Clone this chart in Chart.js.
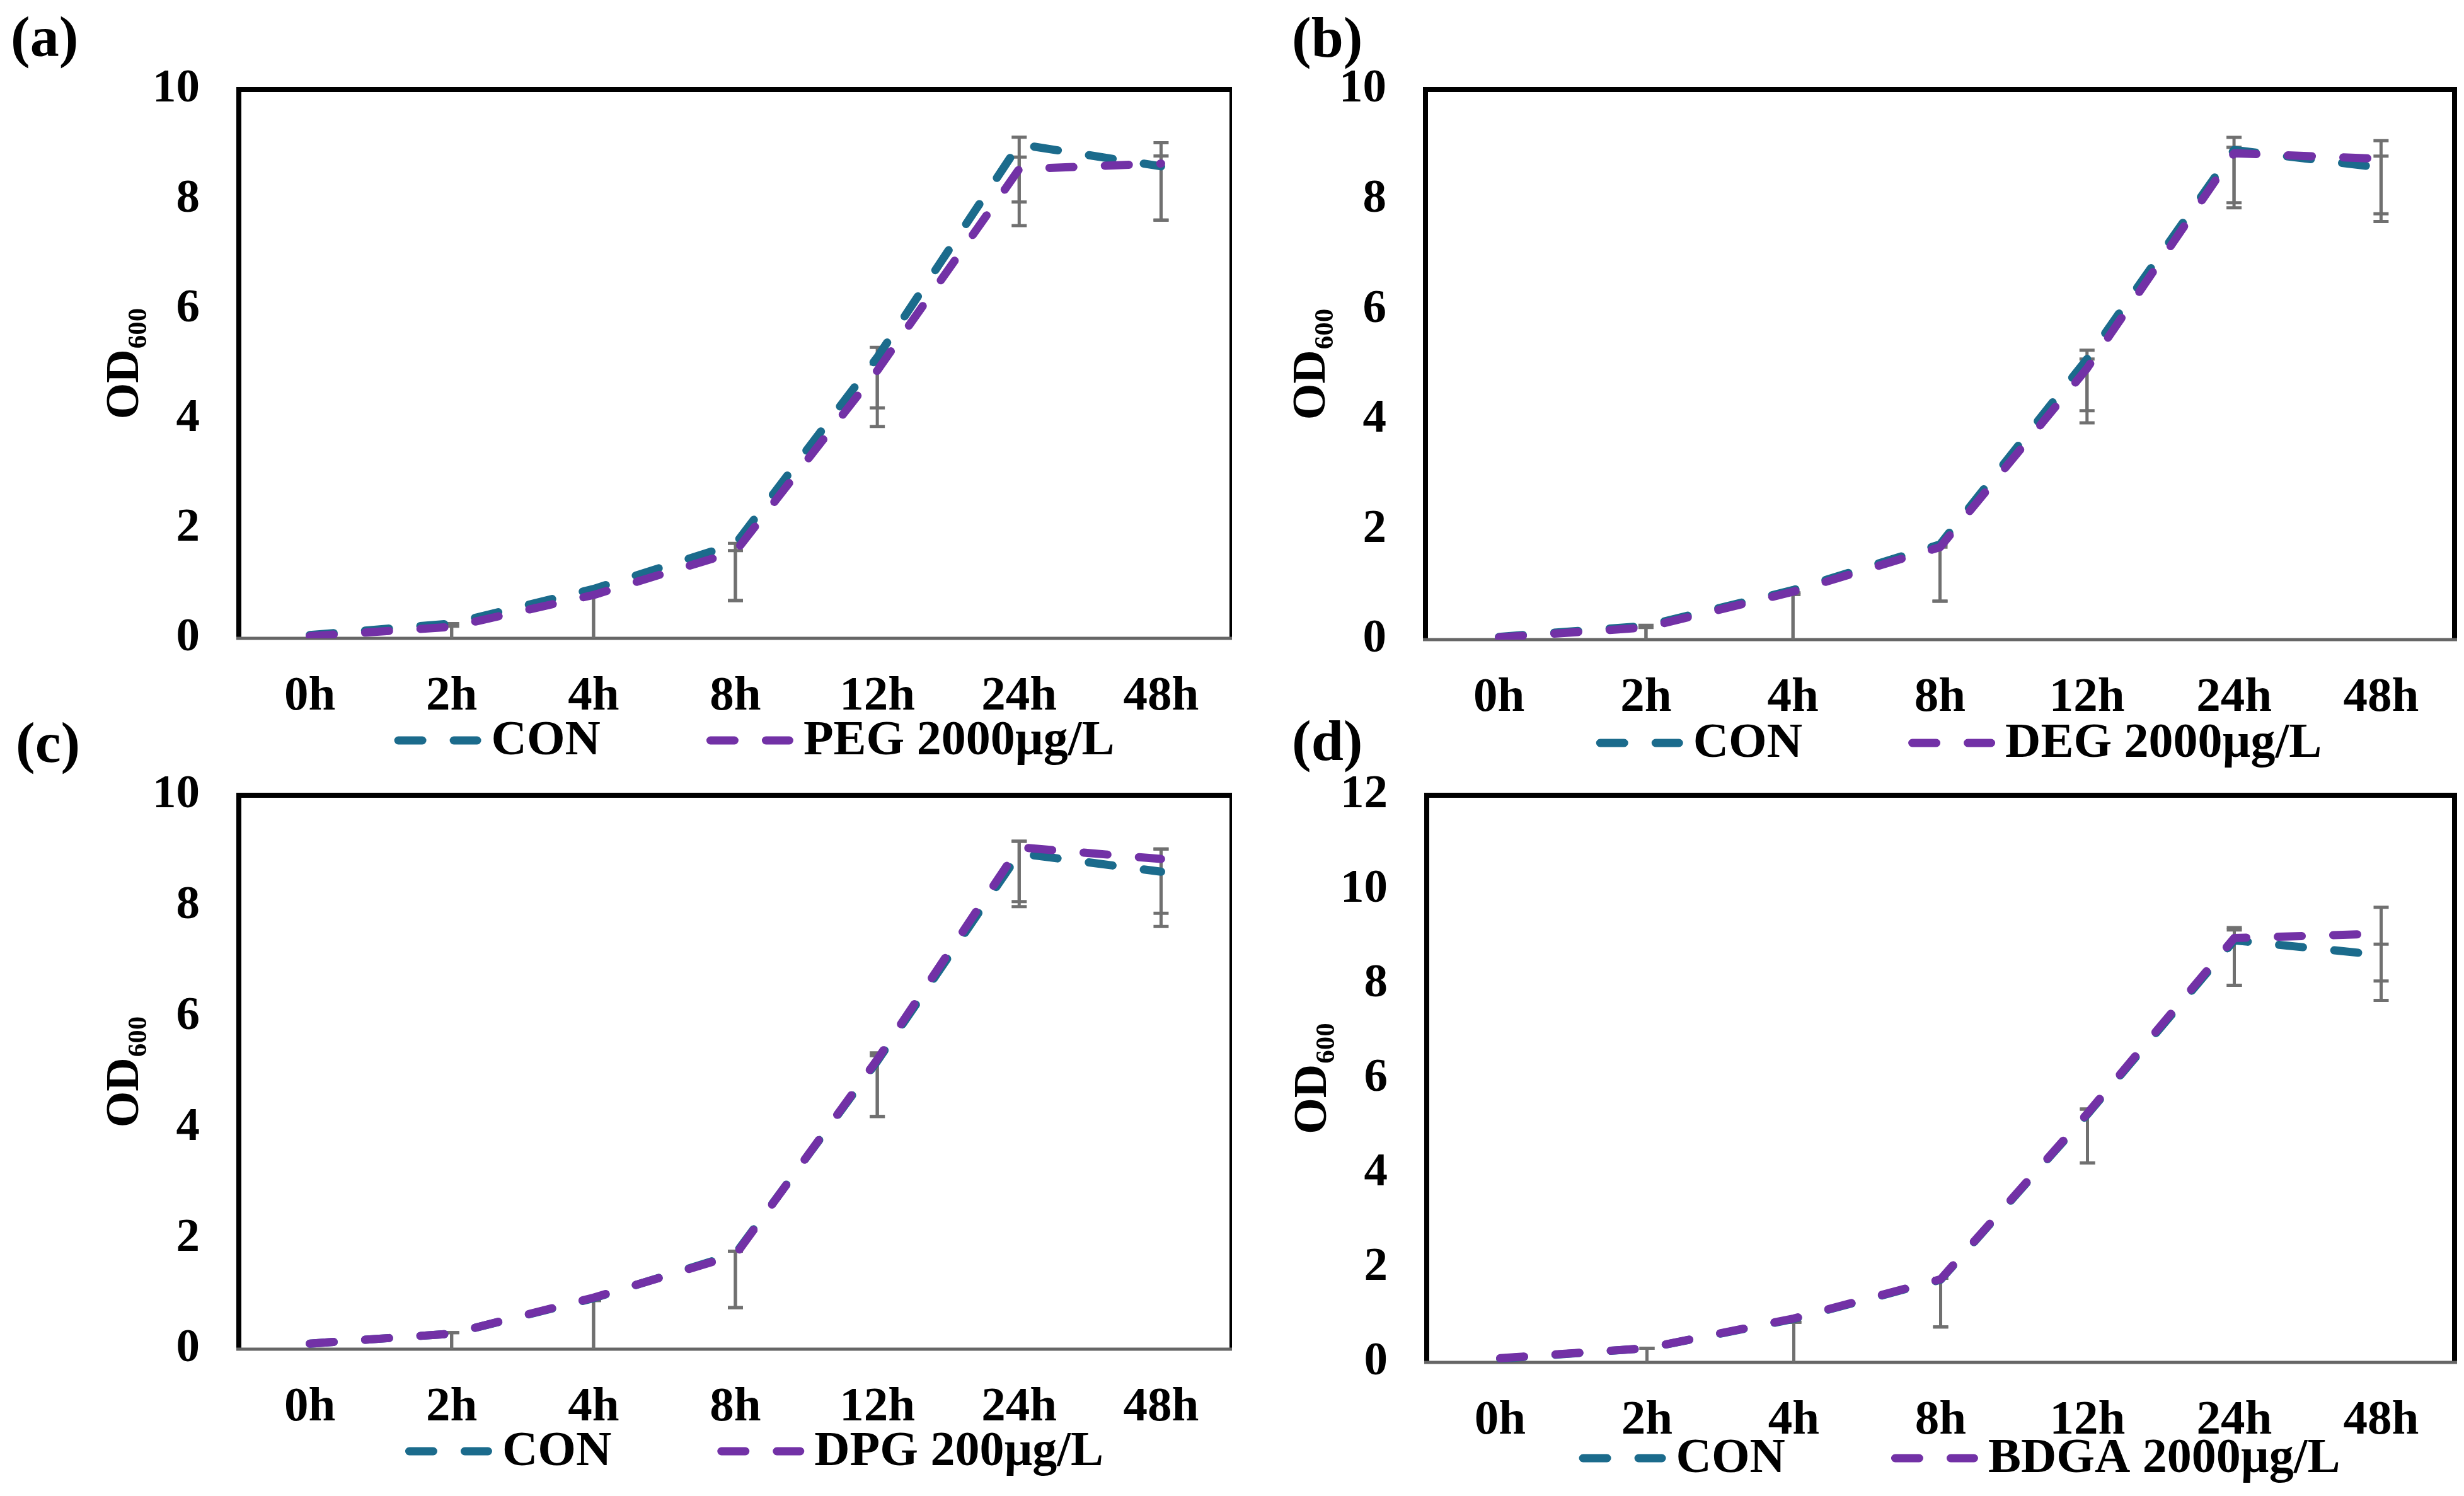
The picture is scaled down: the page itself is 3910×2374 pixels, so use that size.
<!DOCTYPE html>
<html>
<head>
<meta charset="utf-8">
<script src="https://cdn.jsdelivr.net/npm/chart.js@4.4.1/dist/chart.umd.min.js"></script>
<style>
  html, body { margin: 0; padding: 0; background: #fff; }
  body { width: 3910px; height: 2374px; position: relative; overflow: hidden; }
  canvas { position: absolute; }
</style>
</head>
<body>
<canvas id="pa"></canvas>
<canvas id="pb"></canvas>
<canvas id="pc"></canvas>
<canvas id="pd"></canvas>
<script>
const hours = ["0h", "2h", "4h", "8h", "12h", "24h", "48h"];

// (a) CON vs PEG 2000µg/L
const conA = [0.06, 0.27, 0.9, 1.72, 5.12, 9.0, 8.6];
const pegA = [0.04, 0.21, 0.79, 1.58, 4.88, 8.55, 8.65];
const conA_lo = [null, 0, 0, 0.69, 4.2, 7.95, 7.62];
const conA_hi = [null, 0.27, 0.85, 1.73, 5.3, 9.13, 9.03];
const pegA_lo = [null, 0, 0, 0.69, 3.86, 7.52, 7.62];
const pegA_hi = [null, 0.22, 0.78, 1.6, 5.0, 8.77, 8.79];

// (b) CON vs DEG 2000µg/L
const conB = [0.05, 0.25, 0.9, 1.73, 5.1, 8.9, 8.58];
const degB = [0.04, 0.22, 0.87, 1.68, 4.93, 8.84, 8.74];
const conB_lo = [null, 0, 0, 0.7, 3.94, 7.85, 7.6];
const conB_hi = [null, 0.26, 0.85, 1.73, 5.26, 9.13, 9.07];
const degB_lo = [null, 0, 0, 0.7, 4.16, 7.94, 7.74];
const degB_hi = [null, 0.22, 0.82, 1.68, 5.1, 8.95, 8.79];

// (c) CON vs DPG 200µg/L
const conC = [0.1, 0.28, 0.92, 1.72, 5.2, 8.95, 8.62];
const dpgC = [0.1, 0.28, 0.93, 1.7, 5.23, 9.06, 8.85];
const conC_lo = [null, 0, 0, 0.75, 4.2, 7.99, 7.63];
const conC_hi = [null, 0.3, 0.88, 1.77, 5.35, 9.17, 9.03];
const dpgC_lo = [null, 0, 0, 0.75, 4.2, 8.08, 7.87];
const dpgC_hi = [null, 0.3, 0.88, 1.77, 5.3, 9.17, 9.03];

// (d) CON vs BDGA 2000µg/L
const conD = [0.08, 0.3, 0.92, 1.75, 5.25, 8.93, 8.62];
const bdgaD = [0.09, 0.3, 0.93, 1.76, 5.27, 8.98, 9.07];
const conD_lo = [null, 0, 0, 0.75, 4.22, 7.98, 7.66];
const conD_hi = [null, 0.3, 0.85, 1.78, 5.36, 9.2, 8.85];
const bdgaD_lo = [null, 0, 0, 0.75, 4.22, 7.98, 8.07];
const bdgaD_hi = [null, 0.3, 0.85, 1.78, 5.36, 9.15, 9.63];

const TEAL = "#1b6b8c";
const PURPLE = "#7231a6";
const FONT = '"Liberation Serif", "Times New Roman", serif';

const panels = [
  {id: "pa", label: "(a)", lab: [17, 65], box: [0, 0, 1955, 1260], plot: [379, 142, 2012, 1013], ymax: 10, legendY: 1175,
   names: ["CON", "PEG 2000µg/L"], data: [conA, pegA], err: [[conA_lo, conA_hi], [pegA_lo, pegA_hi]]},
  {id: "pb", label: "(b)", lab: [2050, 66], box: [1955, 0, 1955, 1260], plot: [2262, 142, 3895, 1015], ymax: 10, legendY: 1179,
   names: ["CON", "DEG 2000µg/L"], data: [conB, degB], err: [[conB_lo, conB_hi], [degB_lo, degB_hi]]},
  {id: "pc", label: "(c)", lab: [25, 1185], box: [0, 1120, 1955, 1254], plot: [379, 1262, 2012, 2141], ymax: 10, legendY: 2303,
   names: ["CON", "DPG 200µg/L"], data: [conC, dpgC], err: [[conC_lo, conC_hi], [dpgC_lo, dpgC_hi]]},
  {id: "pd", label: "(d)", lab: [2050, 1182], box: [1955, 1120, 1955, 1254], plot: [2264, 1262, 3895, 2162], ymax: 12, legendY: 2314,
   names: ["CON", "BDGA 2000µg/L"], data: [conD, bdgaD], err: [[conD_lo, conD_hi], [bdgaD_lo, bdgaD_hi]]}
];

const decor = {
  id: "decor",
  beforeDatasetsDraw(chart, args, o) {
    const {ctx, chartArea: a, scales: {x, y}} = chart;
    ctx.save();
    // frame: black left/top/right, grey axis line at bottom
    ctx.strokeStyle = "#000";
    ctx.lineWidth = 8;
    ctx.lineJoin = "miter";
    ctx.beginPath();
    ctx.moveTo(a.left, a.bottom);
    ctx.lineTo(a.left, a.top);
    ctx.lineTo(a.right, a.top);
    ctx.lineTo(a.right, a.bottom);
    ctx.stroke();
    ctx.strokeStyle = "#666";
    ctx.lineWidth = 5;
    ctx.beginPath();
    ctx.moveTo(a.left - 4, a.bottom);
    ctx.lineTo(a.right + 4, a.bottom);
    ctx.stroke();

    // error bars
    ctx.strokeStyle = "#707070";
    ctx.lineWidth = 5;
    o.err.forEach(([lo, hi]) => {
      lo.forEach((v, i) => {
        if (v === null) return;
        const px = x.getPixelForValue(i);
        const y1 = y.getPixelForValue(v);
        const y2 = y.getPixelForValue(hi[i]);
        ctx.beginPath();
        ctx.moveTo(px, y1);
        ctx.lineTo(px, y2);
        if (v > 0) { ctx.moveTo(px - 12, y1); ctx.lineTo(px + 12, y1); }
        ctx.moveTo(px - 12, y2);
        ctx.lineTo(px + 12, y2);
        ctx.stroke();
      });
    });
    ctx.restore();
  },
  afterDraw(chart, args, o) {
    const {ctx, chartArea: a} = chart;
    ctx.save();

    // panel letter
    ctx.fillStyle = "#000";
    ctx.font = "700 92px " + FONT;
    ctx.textBaseline = "middle";
    ctx.textAlign = "left";
    ctx.fillText(o.label, o.lab[0] - o.ox, o.lab[1] - o.oy);

    // y title OD600 with subscript
    ctx.save();
    const big = "700 74px " + FONT, small = "700 43px " + FONT;
    ctx.font = big;
    const w1 = ctx.measureText("OD").width;
    ctx.font = small;
    const w2 = ctx.measureText("600").width;
    ctx.translate(a.left - 160, (a.top + a.bottom) / 2);
    ctx.rotate(-Math.PI / 2);
    ctx.textBaseline = "alphabetic";
    ctx.font = big;
    ctx.fillText("OD", -(w1 + w2) / 2, 0);
    ctx.font = small;
    ctx.fillText("600", -(w1 + w2) / 2 + w1 + 1, 13);
    ctx.restore();

    // legend
    ctx.font = "700 78px " + FONT;
    ctx.textBaseline = "middle";
    const L = 138, gap = 16, itemGap = 168;
    const items = chart.data.datasets.slice().sort((p, q) => p.legendIndex - q.legendIndex);
    const widths = items.map(d => ctx.measureText(d.label).width);
    let total = 0;
    widths.forEach((w, i) => { total += L + gap + w + (i ? itemGap : 0); });
    let cx = (a.left + a.right) / 2 + 30 - total / 2;
    const ly = o.legendY - o.oy;
    items.forEach((d, i) => {
      ctx.save();
      ctx.strokeStyle = d.borderColor;
      ctx.lineWidth = 13;
      ctx.lineCap = "round";
      ctx.setLineDash([38, 50]);
      ctx.beginPath();
      ctx.moveTo(cx + 6.5, ly);
      ctx.lineTo(cx + L - 6.5, ly);
      ctx.stroke();
      ctx.restore();
      ctx.fillStyle = "#000";
      ctx.fillText(d.label, cx + L + gap, ly + 2);
      cx += L + gap + widths[i] + itemGap;
    });
    ctx.restore();
  }
};

panels.forEach(p => {
  const cv = document.getElementById(p.id);
  const [bx, by, bw, bh] = p.box;
  cv.width = bw; cv.height = bh;
  cv.style.left = bx + "px"; cv.style.top = by + "px";
  cv.style.width = bw + "px"; cv.style.height = bh + "px";
  const YW = 150, XH = 140;
  const [pl, pt, pr, pb] = p.plot;

  new Chart(cv, {
    type: "line",
    data: {
      labels: hours,
      datasets: [
        {label: p.names[0], data: p.data[0], borderColor: TEAL, legendIndex: 0, order: 1},
        {label: p.names[1], data: p.data[1], borderColor: PURPLE, legendIndex: 1, order: 0}
      ].map(d => Object.assign(d, {
        borderWidth: 13, borderDash: [38, 50], borderCapStyle: "round", borderJoinStyle: "round",
        pointRadius: 0, tension: 0, fill: false
      }))
    },
    options: {
      responsive: false,
      devicePixelRatio: 1,
      animation: false,
      events: [],
      layout: {padding: {left: pl - bx - YW, top: pt - by, right: bx + bw - pr, bottom: by + bh - pb - XH}},
      scales: {
        x: {
          offset: true,
          grid: {display: false, drawTicks: false},
          border: {display: false},
          ticks: {color: "#000", font: {family: FONT, size: 77, weight: "bold", lineHeight: 1.2},
                  padding: 47, autoSkip: false, maxRotation: 0, minRotation: 0},
          afterFit: s => { s.height = XH; }
        },
        y: {
          min: 0, max: p.ymax,
          grid: {display: false, drawTicks: false},
          border: {display: false},
          ticks: {stepSize: 2, color: "#000", font: {family: FONT, size: 75, weight: "bold"}, padding: 62},
          afterFit: s => { s.width = YW; }
        }
      },
      plugins: {
        legend: {display: false},
        tooltip: {enabled: false},
        decor: {label: p.label, lab: p.lab, ox: bx, oy: by, legendY: p.legendY, err: p.err}
      }
    },
    plugins: [decor]
  });
});
</script>
</body>
</html>
